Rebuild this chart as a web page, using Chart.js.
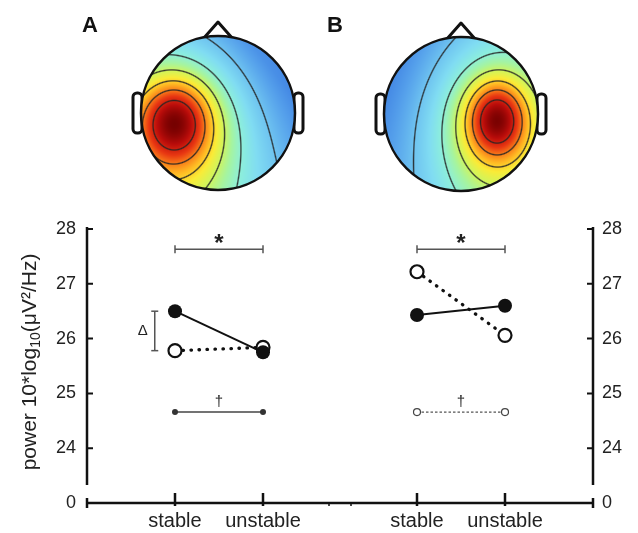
<!DOCTYPE html>
<html>
<head>
<meta charset="utf-8">
<script src="https://cdn.jsdelivr.net/npm/chart.js@4.4.1/dist/chart.umd.min.js"></script>
<style>
  html, body { margin: 0; padding: 0; background: #fff; }
  #wrap { width: 638px; height: 533px; }
</style>
</head>
<body>
<div id="wrap"><canvas id="chart" width="638" height="533"></canvas></div>
<script>
'use strict';

// ── Data ──────────────────────────────────────────────────────────────────────

const categories    = ['stable', 'unstable'];
const yTickValues   = [24, 25, 26, 27, 28];
const breakLabel    = '0';               // label printed at the broken bottom of the axis
const panelA_filled = [26.50, 25.75];
const panelA_open   = [25.78, 25.84];
const panelB_filled = [26.43, 26.60];
const panelB_open   = [27.22, 26.06];
const sigLevel      = 27.63;             // "*" bar
const daggerLevel   = 24.66;             // "†" bar
const deltaRange    = [26.50, 25.78];    // Δ bracket in panel A

// ── Layout (positions, not data) ──────────────────────────────────────────────

const panelX  = { A: [1, 2], B: [3.75, 4.75] };
const X_MIN = 0, X_MAX = 5.75;
const Y_BREAK = 23, Y_MAX = 28, Y_GAP = 23.33;
const DELTA_X = 0.77;
const FONT = '"Liberation Sans", Arial, Helvetica, sans-serif';

// scalp maps: a sharp core plus a broad halo on a tilted background
const heads = [
  { label: 'A', lx: 82, cx: 218, cy: 113, r: 77,
    core: { u: -0.56, v: 0.09, sx: 0.35, sy: 0.40 },
    halo: { u: -0.45, v: 0.25, sx: 0.65, sy: 0.80 },
    bg: [-0.6, 0.5, 0.7, 1.6] },
  { label: 'B', lx: 327, cx: 461, cy: 114, r: 77,
    core: { u: 0.47, v: 0.06, sx: 0.28, sy: 0.36 },
    halo: { u: 0.35, v: 0.18, sx: 0.55, sy: 0.75 },
    bg: [0.6, 0.25, 0.7, 1.5] },
];

const pts = (xs, ys) => ys.map((y, i) => ({ x: xs[i], y }));

// ── Topography maps ───────────────────────────────────────────────────────────

const topoStops = [
  [0.00, [60, 125, 225]], [0.08, [85, 160, 235]], [0.16, [110, 195, 240]],
  [0.24, [128, 220, 242]], [0.32, [140, 238, 220]], [0.40, [165, 244, 160]],
  [0.48, [210, 244, 90]], [0.56, [250, 235, 55]], [0.64, [255, 185, 35]],
  [0.72, [248, 125, 25]], [0.80, [232, 55, 18]], [0.90, [185, 12, 10]],
  [1.00, [115, 0, 0]],
];
const topoLevels = [0.16, 0.33, 0.47, 0.60, 0.72, 0.85];

function jetColor(t) {
  t = Math.max(0, Math.min(1, t));
  for (let i = 1; i < topoStops.length; i++) {
    const [t1, c1] = topoStops[i];
    if (t <= t1) {
      const [t0, c0] = topoStops[i - 1];
      const k = (t - t0) / (t1 - t0);
      return c0.map((c, j) => c + (c1[j] - c) * k);
    }
  }
  return topoStops[topoStops.length - 1][1];
}

function gauss(u, v, p) {
  const du = (u - p.u) / p.sx, dv = (v - p.v) / p.sy;
  return Math.exp(-0.5 * (du * du + dv * dv));
}

function buildTopo(h) {
  const size = Math.ceil(h.r * 2) + 2;
  const cv = document.createElement('canvas');
  cv.width = cv.height = size;
  const g = cv.getContext('2d');
  const img = g.createImageData(size, size);
  const c = size / 2, r = h.r, bg = h.bg;
  const field = (px, py) => {
    const u = (px - c) / r, v = (py - c) / r;
    const base = Math.max(0, Math.min(1, (bg[0] * u + bg[1] * v + bg[2]) / bg[3]));
    return 0.3 * base + 0.45 * gauss(u, v, h.core) + 0.35 * gauss(u, v, h.halo);
  };
  for (let y = 0; y < size; y++) {
    for (let x = 0; x < size; x++) {
      const px = x + 0.5, py = y + 0.5;
      const d = Math.hypot(px - c, py - c);
      if (d > r + 1) continue;
      const f = field(px, py);
      const gx = (field(px + 1, py) - field(px - 1, py)) / 2;
      const gy = (field(px, py + 1) - field(px, py - 1)) / 2;
      const grad = Math.hypot(gx, gy) || 1e-6;
      let line = 0;
      topoLevels.forEach(L => {
        const dist = Math.abs(f - L) / grad;
        if (dist < 1.3) line = Math.max(line, 1 - dist / 1.3);
      });
      const col = jetColor(f).map(v => v + (35 - v) * line * 0.9);
      const i = (y * size + x) * 4;
      img.data[i] = col[0]; img.data[i + 1] = col[1]; img.data[i + 2] = col[2];
      img.data[i + 3] = 255 * Math.max(0, Math.min(1, r + 0.5 - d));
    }
  }
  g.putImageData(img, 0, 0);
  return cv;
}

function drawHead(ctx, h) {
  const { cx, cy, r } = h;
  ctx.save();
  ctx.strokeStyle = '#111';
  ctx.lineJoin = 'round';
  ctx.lineCap = 'round';
  // nose
  ctx.lineWidth = 3;
  ctx.beginPath();
  ctx.moveTo(cx - 15, cy - r + 3);
  ctx.lineTo(cx, cy - r - 14);
  ctx.lineTo(cx + 15, cy - r + 3);
  ctx.stroke();
  // ears
  [-1, 1].forEach(s => {
    const ex = s < 0 ? cx - r - 8 : cx + r - 1;
    ctx.beginPath();
    ctx.roundRect(ex, cy - 20, 9, 40, 4);
    ctx.fillStyle = '#fff';
    ctx.fill();
    ctx.stroke();
  });
  // scalp map
  if (!h.img) h.img = buildTopo(h);
  ctx.drawImage(h.img, cx - h.img.width / 2, cy - h.img.height / 2);
  ctx.lineWidth = 2.5;
  ctx.beginPath();
  ctx.arc(cx, cy, r, 0, Math.PI * 2);
  ctx.stroke();
  // panel letter
  ctx.fillStyle = '#111';
  ctx.font = `bold 22px ${FONT}`;
  ctx.textAlign = 'left';
  ctx.textBaseline = 'alphabetic';
  ctx.fillText(h.label, h.lx, 32);
  ctx.restore();
}

// ── Plugin: heads, broken axes, annotations ───────────────────────────────────

const decorPlugin = {
  id: 'decor',
  beforeDraw(chart) {
    heads.forEach(h => drawHead(chart.ctx, h));
  },
  afterDraw(chart) {
    const ctx = chart.ctx;
    const xs = chart.scales.x, ys = chart.scales.y;
    const X = v => xs.getPixelForValue(v), Y = v => ys.getPixelForValue(v);
    const left = X(X_MIN), right = X(X_MAX), base = Y(Y_BREAK);

    ctx.save();
    ctx.strokeStyle = '#111';
    ctx.lineCap = 'butt';

    // vertical axes, broken above the 0 line
    ctx.lineWidth = 2.5;
    [left, right].forEach(x => {
      ctx.beginPath();
      ctx.moveTo(x, Y(Y_MAX) - 2);
      ctx.lineTo(x, Y(Y_GAP));
      ctx.stroke();
    });
    ctx.lineWidth = 2;
    yTickValues.forEach(v => {
      ctx.beginPath();
      ctx.moveTo(left, Y(v)); ctx.lineTo(left + 6, Y(v));
      ctx.moveTo(right, Y(v)); ctx.lineTo(right - 6, Y(v));
      ctx.stroke();
    });

    // x axis with end caps and category ticks
    ctx.lineWidth = 2.5;
    ctx.beginPath();
    ctx.moveTo(left, base); ctx.lineTo(right, base);
    [left, right].forEach(x => { ctx.moveTo(x, base - 5); ctx.lineTo(x, base + 5); });
    [...panelX.A, ...panelX.B].forEach(v => { ctx.moveTo(X(v), base - 10); ctx.lineTo(X(v), base + 3); });
    ctx.stroke();
    ctx.lineWidth = 1.5;
    ctx.beginPath();
    [2.75, 3.0].forEach(v => { ctx.moveTo(X(v), base); ctx.lineTo(X(v), base + 3); });
    ctx.stroke();

    // significance marks
    ctx.fillStyle = '#222';
    ctx.textAlign = 'center';
    ctx.textBaseline = 'alphabetic';
    [panelX.A, panelX.B].forEach(p => {
      const mx = X((p[0] + p[1]) / 2);
      ctx.font = `bold 24px ${FONT}`;
      ctx.fillText('*', mx, Y(sigLevel) + 2);
      ctx.font = `15px ${FONT}`;
      ctx.fillText('†', mx, Y(daggerLevel) - 6);
    });
    ctx.font = `15px ${FONT}`;
    ctx.textBaseline = 'middle';
    ctx.fillText('Δ', X(DELTA_X) - 12, Y((deltaRange[0] + deltaRange[1]) / 2));

    // y axis title with subscript
    const parts = [
      { t: 'power 10*log', f: `21px ${FONT}`, dy: 0 },
      { t: '10', f: `14px ${FONT}`, dy: 4 },
      { t: '(μV²/Hz)', f: `21px ${FONT}`, dy: 0 },
    ];
    let total = 0;
    parts.forEach(p => { ctx.font = p.f; p.w = ctx.measureText(p.t).width; total += p.w; });
    ctx.translate(36, 362);
    ctx.rotate(-Math.PI / 2);
    ctx.textAlign = 'left';
    ctx.textBaseline = 'alphabetic';
    let cx = -total / 2;
    parts.forEach(p => { ctx.font = p.f; ctx.fillText(p.t, cx, p.dy); cx += p.w; });
    ctx.restore();
  },
};

// ── Chart ─────────────────────────────────────────────────────────────────────

const filledStyle = {
  borderColor: '#111', borderWidth: 2,
  pointRadius: 7, pointBorderWidth: 0,
  pointBackgroundColor: '#111', pointBorderColor: '#111',
};
const openStyle = {
  borderColor: '#111', borderWidth: 3.3, borderDash: [0.5, 7.5], borderCapStyle: 'round',
  pointRadius: 6.5, pointBorderWidth: 2.2,
  pointBackgroundColor: '#fff', pointBorderColor: '#111',
};
const capStyle = {
  borderColor: '#555', borderWidth: 1.5, pointStyle: 'line',
  pointRadius: 4, pointBorderWidth: 1.5, pointBorderColor: '#555',
};

const datasets = [
  { label: 'A filled', data: pts(panelX.A, panelA_filled), ...filledStyle },
  { label: 'B filled', data: pts(panelX.B, panelB_filled), ...filledStyle },
  { label: 'A open', data: pts(panelX.A, panelA_open), ...openStyle },
  { label: 'B open', data: pts(panelX.B, panelB_open), ...openStyle },
  { label: 'A dagger', data: pts(panelX.A, [daggerLevel, daggerLevel]),
    borderColor: '#444', borderWidth: 1.5, pointRadius: 3,
    pointBackgroundColor: '#333', pointBorderColor: '#333', pointBorderWidth: 0 },
  { label: 'B dagger', data: pts(panelX.B, [daggerLevel, daggerLevel]),
    borderColor: '#555', borderWidth: 1.2, borderDash: [2.5, 2],
    pointRadius: 3.5, pointBackgroundColor: '#fff', pointBorderColor: '#444', pointBorderWidth: 1.2 },
  { label: 'A sig', data: pts(panelX.A, [sigLevel, sigLevel]), pointRotation: 90, ...capStyle },
  { label: 'B sig', data: pts(panelX.B, [sigLevel, sigLevel]), pointRotation: 90, ...capStyle },
  { label: 'delta', data: pts([DELTA_X, DELTA_X], deltaRange), pointRotation: 0, ...capStyle, pointRadius: 3.5 },
];

const yTicks = {
  color: '#222', font: { size: 18, family: FONT },
  callback: v => (v === Y_BREAK ? breakLabel : v),
};
const fullTicks = scale => { scale.ticks = [Y_BREAK, ...yTickValues].map(v => ({ value: v })); };

new Chart(document.getElementById('chart'), {
  type: 'line',
  data: { datasets },
  options: {
    responsive: false,
    animation: false,
    layout: { padding: { top: 229, left: 0, right: 0, bottom: 0 } },
    plugins: { legend: { display: false }, tooltip: { enabled: false } },
    elements: { line: { tension: 0 } },
    scales: {
      x: {
        type: 'linear', min: X_MIN, max: X_MAX,
        grid: { display: false, drawTicks: false }, border: { display: false },
        afterBuildTicks: s => { s.ticks = [...panelX.A, ...panelX.B].map(v => ({ value: v })); },
        afterFit: s => { s.height = 30; },
        ticks: {
          autoSkip: false, maxRotation: 0, padding: 6,
          color: '#222', font: { size: 20, family: FONT },
          callback: (v, i) => categories[i % 2],
        },
      },
      y: {
        type: 'linear', position: 'left', min: Y_BREAK, max: Y_MAX,
        grid: { display: false, drawTicks: false }, border: { display: false },
        afterBuildTicks: fullTicks,
        afterFit: s => { s.width = 87; },
        ticks: { ...yTicks, padding: 11 },
      },
      y2: {
        type: 'linear', position: 'right', min: Y_BREAK, max: Y_MAX,
        grid: { display: false, drawTicks: false }, border: { display: false },
        afterBuildTicks: fullTicks,
        afterFit: s => { s.width = 45; },
        ticks: { ...yTicks, padding: 9 },
      },
    },
  },
  plugins: [decorPlugin],
});
</script>
</body>
</html>
